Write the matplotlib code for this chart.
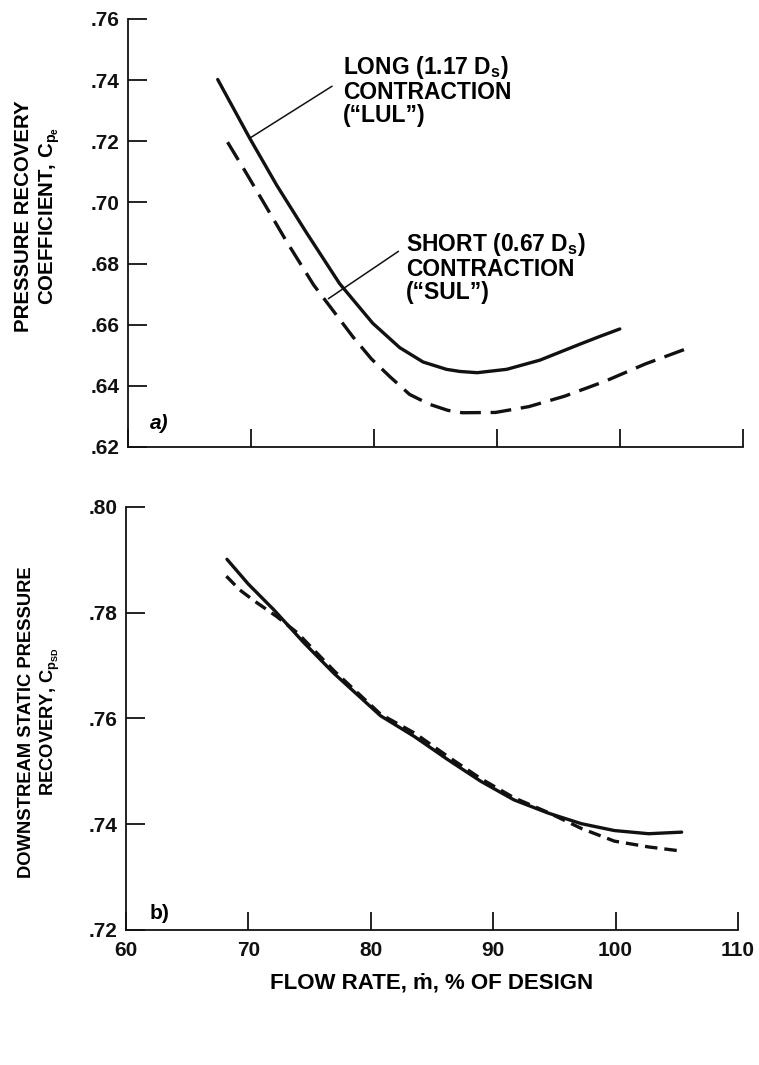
import matplotlib
matplotlib.use("Agg")
import matplotlib.pyplot as plt

plt.rcParams['font.family'] = ['Liberation Sans', 'DejaVu Sans']
plt.rcParams['font.weight'] = 'bold'
plt.rcParams['axes.labelweight'] = 'bold'
plt.rcParams['mathtext.fontset'] = 'custom'
plt.rcParams['mathtext.rm'] = 'Liberation Sans:bold'
plt.rcParams['mathtext.it'] = 'Liberation Sans:italic:bold'
plt.rcParams['mathtext.bf'] = 'Liberation Sans:bold'
plt.rcParams['lines.scale_dashes'] = False

# ---- data: panel a) pressure recovery coefficient Cpe ----
lul_a_x = [67.3, 69.9, 72.1, 74.5, 77.2, 79.9, 82.1, 84.0, 85.9, 87.0, 88.4, 90.8, 93.5, 96.8, 98.4, 100.0]
lul_a_y = [0.7402, 0.7210, 0.7056, 0.6902, 0.6735, 0.6605, 0.6525, 0.6478, 0.6454, 0.6447, 0.6443,
           0.6454, 0.6484, 0.6537, 0.6562, 0.6586]
sul_a_x = [68.1, 69.5, 71.0, 72.9, 75.1, 78.3, 79.8, 81.3, 82.9, 84.5, 86.0, 87.2, 89.9, 92.6, 95.5,
           98.8, 102.1, 105.8]
sul_a_y = [0.7197, 0.7104, 0.7002, 0.6872, 0.6730, 0.6560, 0.6488, 0.6430, 0.6372, 0.6340, 0.6320,
           0.6312, 0.6313, 0.6332, 0.6366, 0.6415, 0.6472, 0.6527]

# ---- data: panel b) downstream static pressure recovery CpSD ----
lul_b_x = [68.25, 70.0, 72.1, 74.5, 77.0, 80.8, 83.55, 86.3, 89.0, 91.7, 94.5, 97.2, 99.9, 102.7, 105.4]
lul_b_y = [0.7901, 0.7854, 0.7805, 0.7744, 0.7685, 0.7605, 0.7566, 0.7522, 0.7481, 0.7446, 0.7421,
           0.7401, 0.7388, 0.7382, 0.7385]
sul_b_x = [68.2, 69.3, 70.5, 72.3, 74.0, 77.0, 80.8, 83.6, 86.3, 89.0, 91.7, 94.5, 97.2, 99.9, 102.7, 105.1]
sul_b_y = [0.7869, 0.7843, 0.7822, 0.7793, 0.7762, 0.7690, 0.7608, 0.7572, 0.7528, 0.7486, 0.7450,
           0.7422, 0.7392, 0.7368, 0.7357, 0.7350]

x_ticks = [60, 70, 80, 90, 100, 110]
x_ticklabels = ['60', '70', '80', '90', '100', '110']
a_yticks = [0.62, 0.64, 0.66, 0.68, 0.70, 0.72, 0.74, 0.76]
a_yticklabels = ['.62', '.64', '.66', '.68', '.70', '.72', '.74', '.76']
b_yticks = [0.72, 0.74, 0.76, 0.78, 0.80]
b_yticklabels = ['.72', '.74', '.76', '.78', '.80']

FS_TICK = 15
FS_NOTE = 16.5
FS_XLAB = 16
LW = 2.4
DARK = '#111111'

W, H = 759, 1065
fig = plt.figure(figsize=(W / 100, H / 100), dpi=100)
ax1 = fig.add_axes([0.1686, 0.5803, 0.8100, 0.4019])
ax2 = fig.add_axes([0.1660, 0.1268, 0.8063, 0.3972])

for ax in (ax1, ax2):
    for s in ('top', 'right'):
        ax.spines[s].set_visible(False)
    for s in ('left', 'bottom'):
        ax.spines[s].set_linewidth(1.3)
        ax.spines[s].set_color(DARK)
    ax.set_xlim(60, 110)
    ax.set_xticks(x_ticks)
    ax.tick_params(axis='y', direction='in', length=14, width=1.3, pad=6,
                   labelsize=FS_TICK, colors=DARK)
    ax.tick_params(axis='x', direction='in', length=13, width=1.3, pad=8,
                   labelsize=FS_TICK, colors=DARK)

# panel a
ax1.set_ylim(0.62, 0.76)
ax1.set_yticks(a_yticks)
ax1.set_yticklabels(a_yticklabels)
ax1.set_xticklabels([])
ax1.plot(lul_a_x, lul_a_y, color=DARK, lw=LW, solid_capstyle='round', solid_joinstyle='round')
ax1.plot(sul_a_x, sul_a_y, color=DARK, lw=LW, dashes=(15, 7))
fig.text(38 / W, 1 - 216 / H, 'PRESSURE RECOVERY\nCOEFFICIENT, $\\mathregular{C_{p_e}}$',
         fontsize=14.7, rotation=90, ha='center', va='center', linespacing=1.3)
ax1.text(61.8, 0.6278, 'a)', fontsize=FS_TICK, style='italic', va='center', ha='left')

ax1.annotate('', xy=(69.9, 0.7210), xytext=(76.6, 0.738),
             arrowprops=dict(arrowstyle='-', lw=1.1, color=DARK, shrinkA=0, shrinkB=0))
ax1.text(77.5, 0.7485, 'LONG (1.17 $\\mathregular{D_s}$)\nCONTRACTION\n(\u201cLUL\u201d)',
         fontsize=FS_NOTE, va='top', ha='left', linespacing=1.0)
ax1.annotate('', xy=(76.3, 0.6685), xytext=(82.0, 0.684),
             arrowprops=dict(arrowstyle='-', lw=1.1, color=DARK, shrinkA=0, shrinkB=0))
ax1.text(82.6, 0.6905, 'SHORT (0.67 $\\mathregular{D_s}$)\nCONTRACTION\n(\u201cSUL\u201d)',
         fontsize=FS_NOTE, va='top', ha='left', linespacing=1.0)

# panel b
ax2.set_ylim(0.72, 0.80)
ax2.set_yticks(b_yticks)
ax2.set_yticklabels(b_yticklabels)
ax2.set_xticklabels(x_ticklabels)
ax2.plot(lul_b_x, lul_b_y, color=DARK, lw=LW, solid_capstyle='round', solid_joinstyle='round')
ax2.plot(sul_b_x, sul_b_y, color=DARK, lw=LW, dashes=(9, 5))
fig.text(40 / W, 1 - 722 / H, 'DOWNSTREAM STATIC PRESSURE\nRECOVERY, $\\mathregular{C_{p_{SD}}}$',
         fontsize=13.2, rotation=90, ha='center', va='center', linespacing=1.3)
ax2.set_xlabel('FLOW RATE, \u1e41, % OF DESIGN', fontsize=FS_XLAB, labelpad=9)
ax2.text(61.9, 0.7232, 'b)', fontsize=FS_TICK, va='center', ha='left')

fig.savefig('out.png', dpi=100)
